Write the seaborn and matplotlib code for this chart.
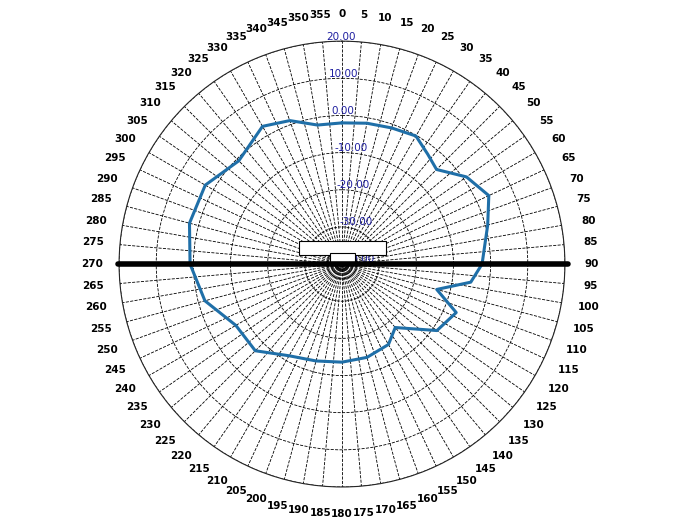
import numpy as np
import matplotlib
matplotlib.use("Agg")
import matplotlib.pyplot as plt
import seaborn as sns
from matplotlib.patches import Rectangle
from matplotlib.lines import Line2D

sns.set_style("white")
plt.rcParams['font.family'] = ['DejaVu Sans']

angles_deg = [0, 10, 20, 30, 38, 45, 55, 65, 75, 90, 98, 105, 113, 125, 140, 150, 165, 180, 195, 210, 225, 240, 255, 270, 285, 300, 315, 330, 340, 350, 360]
gain_db = [-2.0, -1.5, -1.0, -0.2, -2.5, -4.0, 0.9, 3.6, 0.6, -2.3, -5.0, -13.6, -6.6, -8.8, -17.7, -15.0, -14.0, -13.6, -13.0, -11.5, -7.0, -7.0, -1.8, 0.9, 2.5, 2.5, -0.7, 2.8, 1.1, -2.0, -2.0]
r_ticks = [-40, -30, -20, -10, 0, 10, 20]
theta_ticks = list(range(0, 360, 5))

fig = plt.figure(figsize=(6.84, 5.19), dpi=100)
ax = fig.add_axes([0.174, 0.0617, 0.652, 0.859], projection='polar')
ax.set_theta_zero_location('N')
ax.set_theta_direction(-1)
ax.set_rlim(-40, 20)
ax.set_rticks(r_ticks)
ax.set_yticklabels([f"{v:.2f}" for v in r_ticks], color='#1f1fa0', fontsize=7.5)
ax.set_rlabel_position(-4)
ax.set_xticks(np.deg2rad(theta_ticks))
ax.set_xticklabels([str(t) for t in theta_ticks], fontsize=7.5, fontweight='bold', color='black')
ax.tick_params(axis='x', pad=9)
ax.grid(True, color='black', linestyle='--', linewidth=0.6)
ax.spines['polar'].set_linewidth(0.8)
th = np.linspace(0, 2*np.pi, 200)
for rr in [-39, -38, -37, -36]:
    ax.plot(th, np.full_like(th, rr), color='black', lw=0.5)

sns.lineplot(x=np.deg2rad(angles_deg), y=gain_db, ax=ax, color='#1f6fa8', lw=2.2, sort=False)
ax.set_xlabel(''); ax.set_ylabel('')

fig.add_artist(Line2D([118/684, 568/684], [1-264/519, 1-264/519], color='black', lw=4))
fig.add_artist(Rectangle((299/684, 1-255/519), 87/684, 14/519, fill=True, facecolor='white', edgecolor='black', lw=0.8))
fig.add_artist(Rectangle((330/684, 1-262/519), 25/684, 9/519, fill=True, facecolor='white', edgecolor='black', lw=0.8))
fig.savefig("out.png", dpi=100)
